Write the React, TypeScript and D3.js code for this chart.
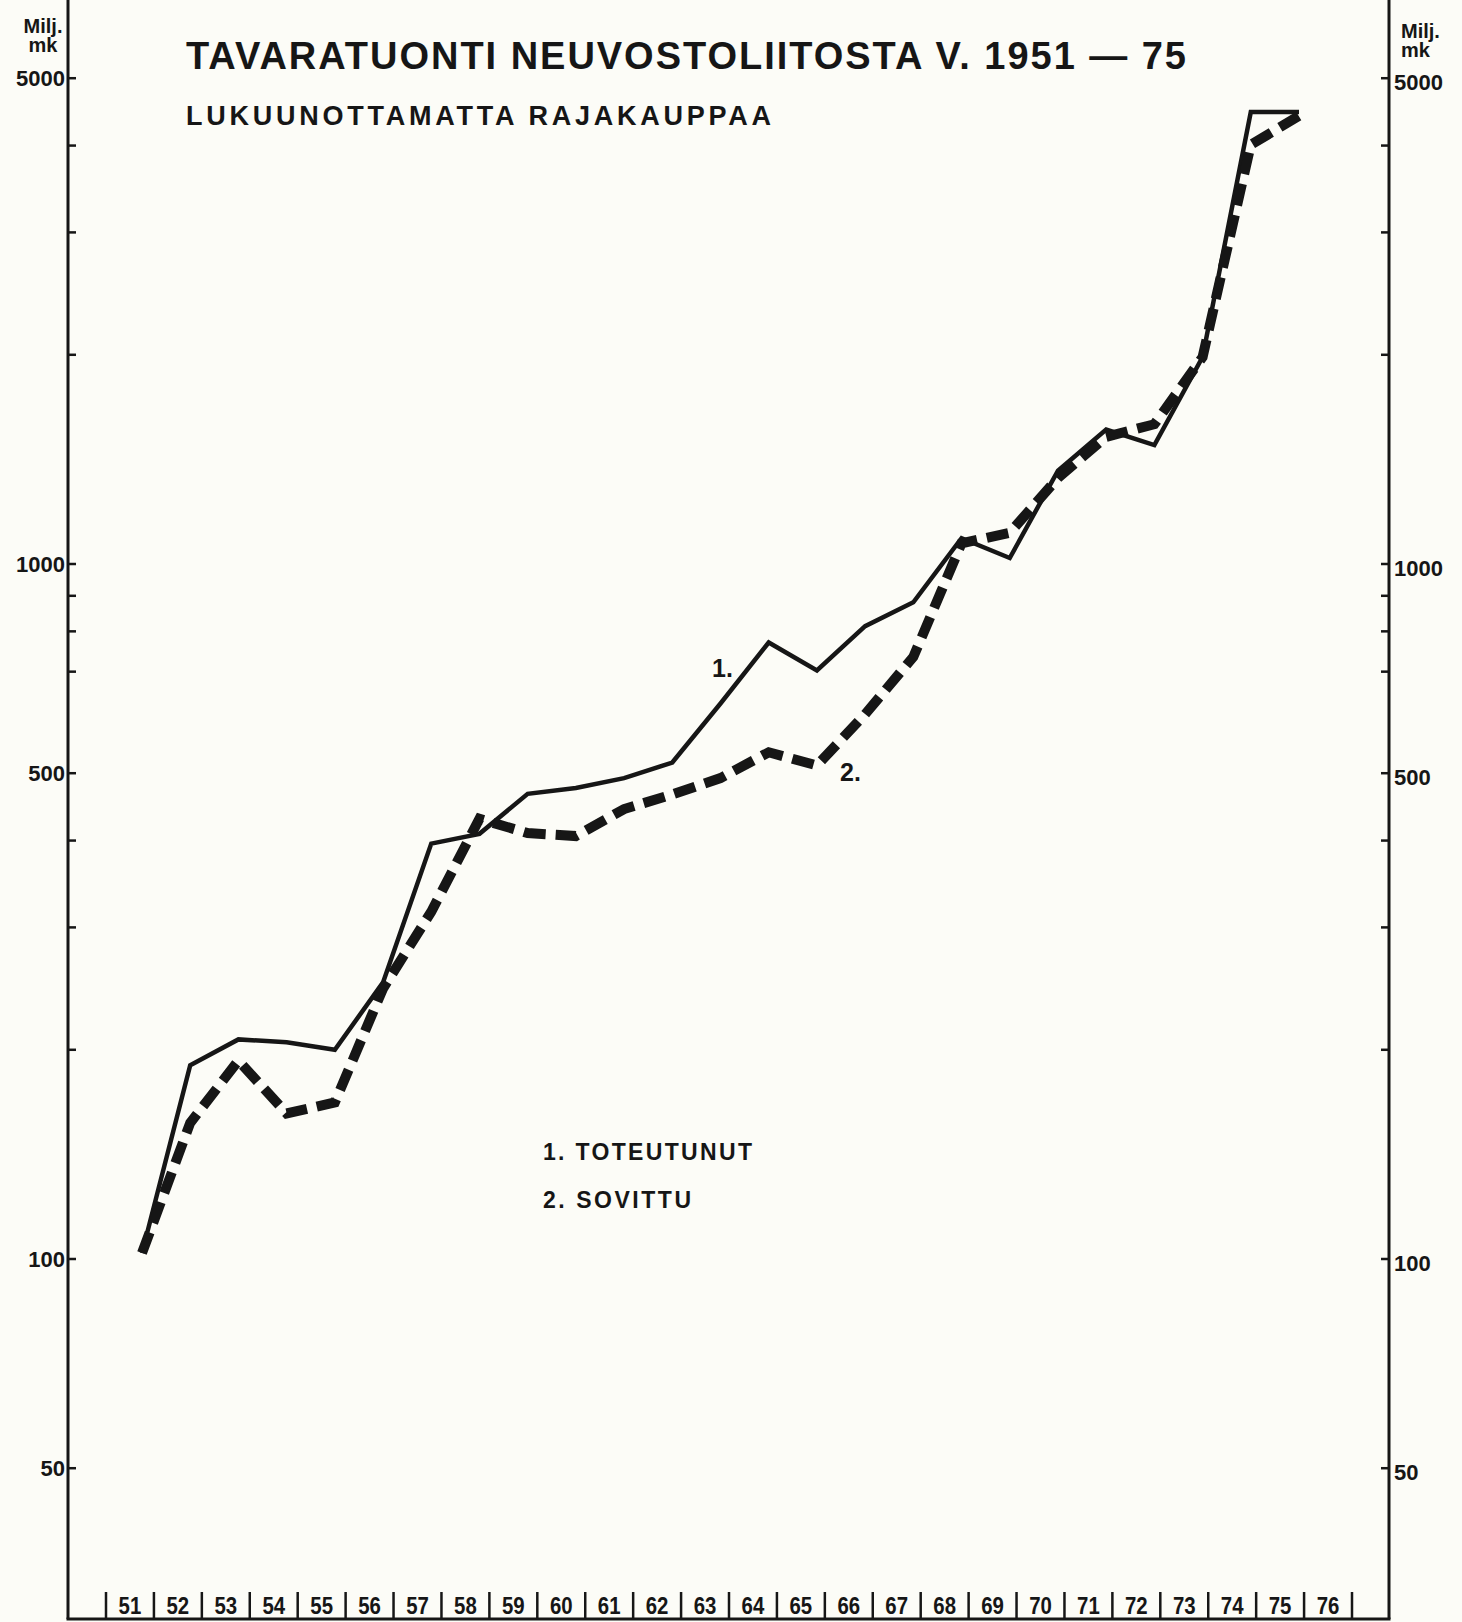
import React from "react";
import * as d3 from "d3";

const years = d3.range(1951, 1976);
const axisYears = ["51","52","53","54","55","56","57","58","59","60","61","62","63","64","65","66","67","68","69","70","71","72","73","74","75","76"];
const toteutunut = [102, 190, 207, 205, 200, 250, 396, 409, 467, 476, 492, 518, 630, 771, 703, 814, 881, 1089, 1020, 1362, 1561, 1483, 1985, 4470, 4470];
const sovittu = [102, 157, 193, 162, 168, 245, 316, 430, 410, 406, 444, 466, 492, 536, 513, 608, 735, 1071, 1109, 1330, 1524, 1589, 1985, 4010, 4415];
const labeledTicks = [50, 100, 500, 1000, 5000];
const minorTicks = [200, 300, 400, 700, 800, 900, 2000, 3000, 4000];
const title = "TAVARATUONTI  NEUVOSTOLIITOSTA  V.  1951 — 75";
const subtitle = "LUKUUNOTTAMATTA  RAJAKAUPPAA";
const legend = ["1. TOTEUTUNUT", "2. SOVITTU"];

const W = 1462, H = 1622;
const LEFT = 68, RIGHT = 1389, BOTTOM = 1619;
const FONT = "'Liberation Sans', Arial, Helvetica, sans-serif";
const INK = "#161616";

export default function App() {
  const y = d3.scaleLog().domain([100, 1000]).range([1259, 564]);
  const x = d3.scaleLinear().domain([1951, 1975]).range([142, 1299]);
  const band = d3.scaleBand().domain(axisYears).range([106, 1352]);
  const line = d3.line<number>().x((_, i) => x(years[i])).y((d) => y(d));

  return (
    <svg width={W} height={H} style={{ position: "absolute", left: 0, top: 0, display: "block" }} fontFamily={FONT}>
      <rect x={0} y={0} width={W} height={H} fill="#fcfcf7" />
      {/* axes */}
      <line x1={LEFT} x2={LEFT} y1={0} y2={BOTTOM} stroke={INK} strokeWidth={3} />
      <line x1={RIGHT} x2={RIGHT} y1={0} y2={BOTTOM} stroke={INK} strokeWidth={3} />
      <line x1={LEFT - 1.5} x2={RIGHT + 1.5} y1={BOTTOM} y2={BOTTOM} stroke={INK} strokeWidth={3} />

      {/* ticks */}
      {labeledTicks.concat(minorTicks).map((t) => (
        <g key={"t" + t}>
          <line x1={LEFT} x2={LEFT + 8} y1={y(t)} y2={y(t)} stroke={INK} strokeWidth={2.5} />
          <line x1={RIGHT - 8} x2={RIGHT} y1={y(t)} y2={y(t)} stroke={INK} strokeWidth={2.5} />
        </g>
      ))}
      {labeledTicks.map((t) => (
        <g key={"l" + t} fontWeight="bold" fontSize={22} fill={INK}>
          <text x={LEFT - 3} y={y(t)} dy="0.36em" textAnchor="end">{t}</text>
          <text x={RIGHT + 5} y={y(t) + 4} dy="0.36em" textAnchor="start">{t}</text>
        </g>
      ))}
      <g fontWeight="bold" fontSize={20} fill={INK}>
        <text x={43} y={33} textAnchor="middle">Milj.</text>
        <text x={43} y={52} textAnchor="middle">mk</text>
        <text x={1401} y={38}>Milj.</text>
        <text x={1401} y={57}>mk</text>
      </g>

      {/* year axis */}
      {axisYears.map((yr) => {
        const cx = band(yr)! + band.bandwidth() / 2;
        return (
          <g key={yr}>
            <line x1={band(yr)!} x2={band(yr)!} y1={1592} y2={BOTTOM} stroke={INK} strokeWidth={2.5} />
            <text x={cx} y={1614} textAnchor="middle" fontWeight="bold" fontSize={24} fill={INK}
              transform={`translate(${cx},0) scale(0.85,1) translate(${-cx},0)`}>{yr}</text>
          </g>
        );
      })}
      <line x1={band.range()[1]} x2={band.range()[1]} y1={1592} y2={BOTTOM} stroke={INK} strokeWidth={2.5} />

      {/* titles */}
      <text x={186} y={69} fontWeight="bold" fontSize={38} fill={INK} textLength={1000} lengthAdjust="spacing">{title}</text>
      <text x={186} y={125} fontWeight="bold" fontSize={27} fill={INK} textLength={585} lengthAdjust="spacing">{subtitle}</text>

      {/* series */}
      <path d={line(toteutunut) || ""} fill="none" stroke={INK} strokeWidth={4.5} strokeLinejoin="miter" />
      <path d={line(sovittu) || ""} fill="none" stroke={INK} strokeWidth={10} strokeDasharray="22 10" strokeLinejoin="miter" />

      {/* series labels */}
      <text x={712} y={677} fontWeight="bold" fontSize={25} fill={INK}>1.</text>
      <text x={840} y={781} fontWeight="bold" fontSize={25} fill={INK}>2.</text>

      {/* legend */}
      <text x={543} y={1160} fontWeight="bold" fontSize={23} fill={INK} textLength={209} lengthAdjust="spacing">{legend[0]}</text>
      <text x={543} y={1208} fontWeight="bold" fontSize={23} fill={INK} textLength={148} lengthAdjust="spacing">{legend[1]}</text>
    </svg>
  );
}
